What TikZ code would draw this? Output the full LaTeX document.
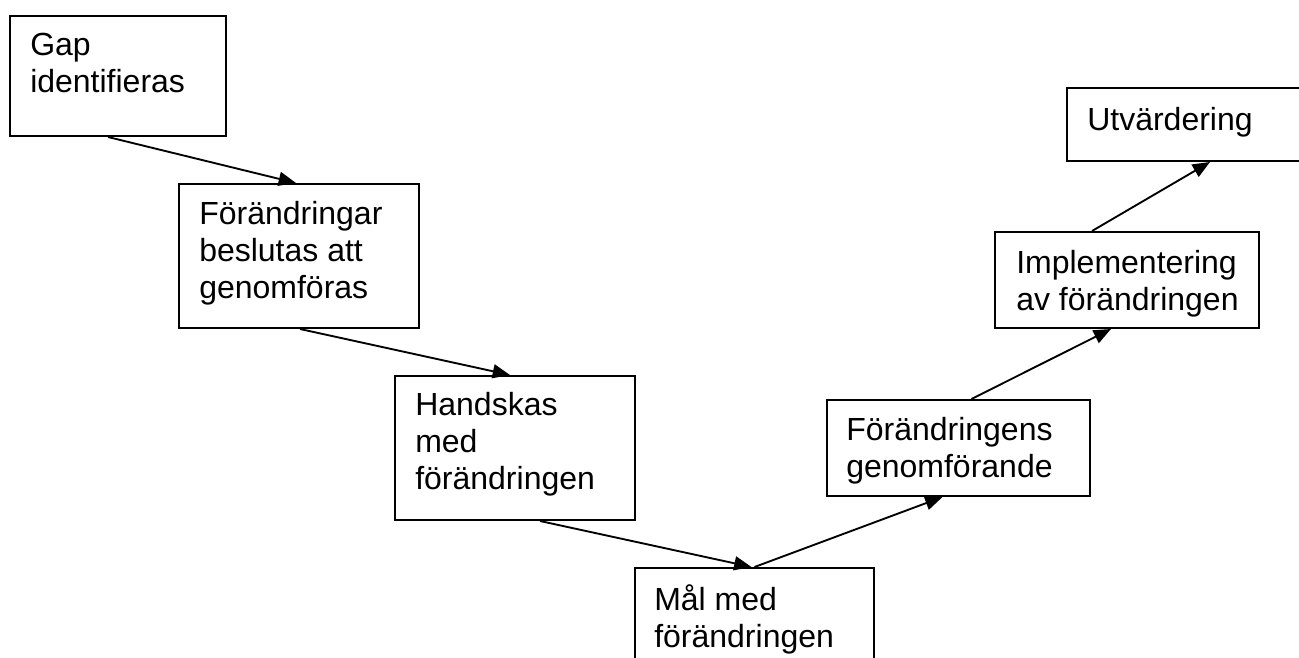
\documentclass[tikz,border=0pt]{standalone}
\usepackage{fontspec}
\setmainfont{Liberation Sans}
\usetikzlibrary{arrows.meta}
\newlength{\px}
\setlength{\px}{0.75pt}

\begin{document}
\begin{tikzpicture}[x=0.75pt, y=-0.75pt,
    box/.style={draw, line width=1.5pt, fill=white, inner sep=0pt},
    txt/.style={anchor=north west, inner sep=0pt, align=left, font=\fontsize{24}{27.75}\selectfont, execute at begin node=\strut},
    flow/.style={-{Triangle[length=13pt, width=10.5pt]}, line width=1.4pt}]
    \useasboundingbox (0,0) rectangle (1299,657);
    \clip (0,0) rectangle (1299,657);

    % Boxes
    \node[box, minimum width=216\px, minimum height=120\px] (gap) at (118,76) {};
    \node[box, minimum width=240\px, minimum height=144\px] (beslut) at (299,256) {};
    \node[box, minimum width=240\px, minimum height=144\px] (handskas) at (515,448) {};
    \node[box, minimum width=239\px, minimum height=144\px] (mal) at (754.5,640) {};
    \node[box, minimum width=263\px, minimum height=96\px] (genomf) at (958.5,448) {};
    \node[box, minimum width=264\px, minimum height=96\px] (impl) at (1127,280) {};
    \node[box, minimum width=264\px, minimum height=73\px] (utv) at (1199,124.5) {};

    % Texts
    \node[txt] (gapT) at ([shift={(21,18)}]gap.north west) {Gap\\identifieras};
    \node[txt] (beslutT) at ([shift={(21,18)}]beslut.north west) {Förändringar\\beslutas att\\genomföras};
    \node[txt] (handskasT) at ([shift={(21,17)}]handskas.north west) {Handskas\\med\\förändringen};
    \node[txt] (malT) at ([shift={(20,17)}]mal.north west) {Mål med\\förändringen};
    \node[txt] (genomfT) at ([shift={(20,18)}]genomf.north west) {Förändringens\\genomförande};
    \node[txt] (implT) at ([shift={(22,19)}]impl.north west) {Implementering\\av förändringen};
    \node[txt] (utvT) at ([shift={(21,17)}]utv.north west) {Utvärdering};

    % Arrows
    \draw[flow] ([shift={(-10,0)}]gap.south) -- ([shift={(-3,0)}]beslut.north);
    \draw[flow] ([shift={(1,0)}]beslut.south) -- ([shift={(-5,0)}]handskas.north);
    \draw[flow] ([shift={(25,0)}]handskas.south) -- ([shift={(-3,0)}]mal.north);
    \draw[flow] (mal.north) -- ([shift={(-16,0)}]genomf.south);
    \draw[flow] ([shift={(13,0)}]genomf.north) -- ([shift={(-16,0)}]impl.south);
    \draw[flow] ([shift={(-35,0)}]impl.north) -- ([shift={(11,0)}]utv.south);
\end{tikzpicture}
\end{document}
